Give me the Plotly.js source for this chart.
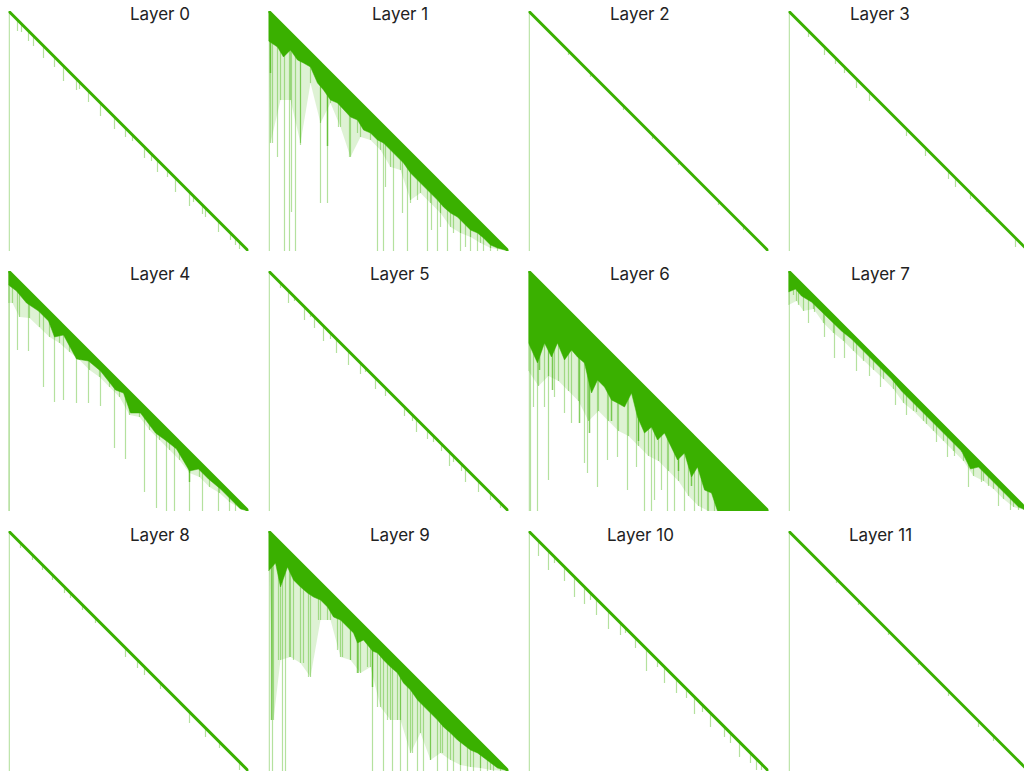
<!DOCTYPE html>
<html>
<head>
<meta charset="utf-8">
<script src="https://cdn.plot.ly/plotly-3.0.1.min.js"></script>
<style>html,body{margin:0;padding:0;background:#fff;}#chart{width:1024px;height:772px;}</style>
</head>
<body>
<div id="chart"></div>
<script>
// ---------- data (token positions; 240 tokens per panel) ----------
const layerNames = ['Layer 0','Layer 1','Layer 2','Layer 3','Layer 4','Layer 5','Layer 6','Layer 7','Layer 8','Layer 9','Layer 10','Layer 11'];
const nTokens = 240;

// light vertical stripes: key column and the last query row that still attends to it
const L0_stripeCol = [9,13,20,25,35,46,55,68,71,80,92,106,117,124,136,143,149,159,167,181,185,194,197,210,222,227,231];
const L0_stripeEnd = [20,21,30,35,47,56,70,79,78,91,105,118,126,130,147,150,161,166,181,195,191,203,206,221,229,234,238];
const L1_stripeCol = [4,9,16,21,23,27,32,52,59,70,81,89,109,115,117,125,134,139,142,149,159,163,169,172,179,185,192,197,202,209,215,222,229];
const L1_stripeEnd = [132,146,240,240,201,240,134,192,192,116,146,122,240,240,176,240,202,240,192,189,240,219,240,216,240,222,240,236,240,240,240,240,240];
const L2_stripeCol = [40,62,95,124,150,190,215];
const L2_stripeEnd = [44,66,99,128,154,194,219];
const L3_stripeCol = [20,36,47,56,68,81,118,137,160,167,182,198,227];
const L3_stripeEnd = [26,44,53,62,77,90,125,145,168,176,188,201,236];
const L4_stripeCol = [0,9,20,35,46,55,68,80,92,106,117,136,148,158,166,181,194,210,221,227];
const L4_stripeEnd = [240,79,80,116,131,129,132,132,135,177,188,221,237,240,240,240,240,240,240,240];
const L5_stripeCol = [12,20,26,36,42,46,55,62,68,80,92,97,107,117,136,144,148,159,165,173,181,185,193,197,210,222,232];
const L5_stripeEnd = [17,32,30,49,46,57,70,68,82,94,103,101,118,125,145,150,161,168,171,180,195,191,200,211,221,229,237];
const L6_stripeCol = [2,5,9,16,20,26,36,43,56,59,69,79,89,99,108,116,123,126,133,139,146,156,166,173,179,186];
const L6_stripeEnd = [240,136,240,136,209,126,142,152,192,202,216,189,186,219,196,240,240,229,219,240,240,240,240,240,240,240];
const L7_stripeCol = [5,10,20,26,36,46,56,68,81,92,107,118,128,138,148,159,166,173,180,193,200,210,222,230,235];
const L7_stripeEnd = [24,34,52,41,66,87,87,100,105,116,134,144,141,153,171,186,185,181,216,211,215,235,239,239,239];
const L8_stripeCol = [12,24,34,44,56,62,74,87,117,129,136,152,181,197,211,231];
const L8_stripeEnd = [17,29,39,49,62,67,79,92,126,137,144,158,192,206,217,239];
const L9_stripeCol = [4,10,14,17,21,25,35,40,50,59,69,74,82,90,99,104,109,115,119,124,129,132,139,144,149,155,162,169,174,179,185,192,199,205,212,219,225,232];
const L9_stripeEnd = [240,129,240,240,126,129,132,146,89,89,119,126,129,142,136,240,176,240,189,240,189,240,240,222,240,240,229,240,222,240,240,240,240,240,240,240,240,240];
const L10_stripeCol = [10,20,26,36,46,56,62,68,80,92,97,107,118,129,136,148,158,166,174,182,196,202,211,222,228,233];
const L10_stripeEnd = [25,39,32,50,66,73,69,84,98,104,102,117,140,136,152,162,167,183,181,196,206,212,226,232,239,239];
const L11_stripeCol = [48,70,100,130,160,190,205];
const L11_stripeEnd = [52,74,104,134,165,196,210];

// a few darker single stripes inside the dense layers
const L1_darkCol = [2,59];
const L1_darkEnd = [62,135];
const L4_darkCol = [181];
const L4_darkEnd = [211];
const L6_darkCol = [11,24,51,61,83,110,150,163];
const L6_darkEnd = [99,119,152,162,150,170,200,215];
const L9_darkCol = [3,89,104];
const L9_darkEnd = [189,142,156];

// dense dark part below the diagonal: column and the row where the dark part ends
const L1_bandCol = [0,9,15,22,29,35,42,49,55,62,69,75,82,89,95,102,109,115,122,129,135,142,149,155,162,169,175,182,189,195,202,209,215,222,229];
const L1_bandEnd = [30,36,46,39,49,52,56,72,79,89,92,99,106,109,119,122,129,132,139,146,152,162,169,176,182,189,196,202,206,212,219,222,227,234,237];
const L4_bandCol = [0,8,18,30,40,46,55,68,80,92,107,115,122,132,147,158,168,181,190,200,212,222,232];
const L4_bandEnd = [14,20,32,40,50,66,64,88,90,100,119,122,142,142,162,170,178,200,198,208,218,228,238];
const L6_bandCol = [0,9,16,23,29,36,43,49,56,63,69,76,83,89,96,103,109,116,123,129,136,143,149,156,163,169,176,183,189];
const L6_bandEnd = [72,92,72,86,72,89,79,86,92,122,109,116,129,132,136,122,146,162,156,169,162,176,189,182,206,196,219,222,240];
const L7_bandCol = [0,7,13,23,33,43,53,63,73,83,93,103,113,123,133,143,153,163,173,182,190,200,210,220,230];
const L7_bandEnd = [21,18,25,31,41,50,60,68,78,88,98,108,120,130,140,150,160,170,180,198,196,206,216,226,236];
const L9_bandCol = [0,7,12,19,25,32,39,45,52,59,65,72,79,85,89,95,104,109,115,122,129,135,142,149,155,162,169,175,182,189,195,202,209,215,222,229];
const L9_bandEnd = [40,32,56,36,49,56,62,66,69,76,86,89,96,102,112,109,120,122,129,136,142,152,159,169,176,182,189,196,202,209,214,219,222,227,232,237];

// lighter, densely striped zone that follows the dark part
const L1_fringeCol = [2,12,22,32,42,52,62,72,82,92,102,112,122,132,142,152,162,172,182,192,202,212,222];
const L1_fringeEnd = [132,89,89,132,72,112,92,116,146,126,129,139,156,159,189,182,192,202,216,222,226,232,237];
const L4_fringeCol = [0,4,11,21,31,41,51,61,71,81,91,101,111,121,131,141,151,161,171,181,191,201,211,221,231];
const L4_fringeEnd = [32,32,46,47,56,66,72,81,89,99,106,116,126,144,146,159,169,179,189,202,206,216,222,231,237];
const L6_fringeCol = [0,10,20,30,40,50,60,70,80,90,100,110,120,130,140,150,160,170,180];
const L6_fringeEnd = [100,115,105,110,120,130,150,140,150,160,165,175,185,190,200,210,225,235,240];
const L7_fringeCol = [0,8,15,25,35,45,55,65,75,85,95,105,115,125,135,145,155,165,175,185,195,205,215,225];
const L7_fringeEnd = [34,30,40,38,52,62,70,80,90,99,108,118,132,140,150,160,170,180,190,205,210,218,228,236];
const L9_fringeCol = [5,12,22,32,42,52,62,72,82,92,102,112,122,132,142,152,162,172,182,192,202,212,222];
const L9_fringeEnd = [189,129,126,132,146,89,89,126,129,142,136,176,189,189,222,202,229,222,229,234,236,237,239];

const stripeCols = [L0_stripeCol,L1_stripeCol,L2_stripeCol,L3_stripeCol,L4_stripeCol,L5_stripeCol,L6_stripeCol,L7_stripeCol,L8_stripeCol,L9_stripeCol,L10_stripeCol,L11_stripeCol];
const stripeEnds = [L0_stripeEnd,L1_stripeEnd,L2_stripeEnd,L3_stripeEnd,L4_stripeEnd,L5_stripeEnd,L6_stripeEnd,L7_stripeEnd,L8_stripeEnd,L9_stripeEnd,L10_stripeEnd,L11_stripeEnd];
const darkCols = {1:L1_darkCol, 4:L4_darkCol, 6:L6_darkCol, 9:L9_darkCol};
const darkEnds = {1:L1_darkEnd, 4:L4_darkEnd, 6:L6_darkEnd, 9:L9_darkEnd};
const bandCols = {1:L1_bandCol, 4:L4_bandCol, 6:L6_bandCol, 7:L7_bandCol, 9:L9_bandCol};
const bandEnds = {1:L1_bandEnd, 4:L4_bandEnd, 6:L6_bandEnd, 7:L7_bandEnd, 9:L9_bandEnd};
const fringeCols = {1:L1_fringeCol, 4:L4_fringeCol, 6:L6_fringeCol, 7:L7_fringeCol, 9:L9_fringeCol};
const fringeEnds = {1:L1_fringeEnd, 4:L4_fringeEnd, 6:L6_fringeEnd, 7:L7_fringeEnd, 9:L9_fringeEnd};

// ---------- styling ----------
const DARK = 'rgb(58,176,0)';
const MID = 'rgba(58,176,0,0.62)';
const LIGHT = 'rgba(58,176,0,0.38)';
const FRINGE = 'rgba(58,176,0,0.17)';
const W = 1024, H = 772;

const traces = [];
const layout = {
  width: W, height: H,
  margin: {l:0, r:0, t:0, b:0},
  paper_bgcolor: '#fff', plot_bgcolor: '#fff',
  showlegend: false,
  annotations: []
};

// outline of the region between the diagonal and a lower edge
function polygon(cols, ends) {
  const px = [0, nTokens], py = [0, nTokens];
  for (let k = cols.length - 1; k >= 0; k--) {
    px.push(cols[k]); py.push(Math.min(nTokens, Math.max(ends[k], cols[k])));
  }
  px.push(0); py.push(0);
  return {px, py};
}
function segments(cols, ends) {
  const x = [], y = [];
  cols.forEach((c, k) => { x.push(c, c, null); y.push(c, ends[k], null); });
  return {x, y};
}

layerNames.forEach((name, i) => {
  const col = i % 4, row = Math.floor(i / 4);
  const idx = i === 0 ? '' : String(i + 1);
  const xa = 'x' + idx, ya = 'y' + idx;
  const left = 8.5 + 260 * col, right = left + 240;
  const top = 11 + 260 * row, bottom = top + 240;
  const visRight = Math.min(right, W);
  const xMax = nTokens * (visRight - left) / 240;

  layout['xaxis' + idx] = {
    domain: [left / W, visRight / W], range: [0, xMax],
    showgrid: false, zeroline: false, showticklabels: false, ticks: '', showline: false, fixedrange: true
  };
  layout['yaxis' + idx] = {
    domain: [1 - bottom / H, 1 - top / H], range: [nTokens, 0],
    showgrid: false, zeroline: false, showticklabels: false, ticks: '', showline: false, fixedrange: true
  };

  // attention-sink column (first token)
  traces.push({type:'scatter', mode:'lines', x:[0.7,0.7], y:[0,nTokens], xaxis:xa, yaxis:ya,
    line:{color:LIGHT, width:1.3}, hoverinfo:'skip'});

  // lighter striped zone: faint fill plus a stripe at each sampled column
  if (fringeCols[i]) {
    const p = polygon(fringeCols[i], fringeEnds[i]);
    traces.push({type:'scatter', mode:'lines', x:p.px, y:p.py, xaxis:xa, yaxis:ya, fill:'toself',
      fillcolor:FRINGE, line:{width:0}, hoverinfo:'skip'});
    const f = segments(fringeCols[i], fringeEnds[i]);
    traces.push({type:'scatter', mode:'lines', x:f.x, y:f.y, xaxis:xa, yaxis:ya,
      line:{color:LIGHT, width:1.2}, connectgaps:false, hoverinfo:'skip'});
  }

  // light stripes
  const s = segments(stripeCols[i], stripeEnds[i]);
  traces.push({type:'scatter', mode:'lines', x:s.x, y:s.y, xaxis:xa, yaxis:ya,
    line:{color:LIGHT, width:1.2}, connectgaps:false, hoverinfo:'skip'});

  // darker single stripes
  if (darkCols[i]) {
    const d = segments(darkCols[i], darkEnds[i]);
    traces.push({type:'scatter', mode:'lines', x:d.x, y:d.y, xaxis:xa, yaxis:ya,
      line:{color:MID, width:1.5}, connectgaps:false, hoverinfo:'skip'});
  }

  // dense dark band
  if (bandCols[i]) {
    const p = polygon(bandCols[i], bandEnds[i]);
    traces.push({type:'scatter', mode:'lines', x:p.px, y:p.py, xaxis:xa, yaxis:ya, fill:'toself',
      fillcolor:DARK, line:{color:DARK, width:0.5}, hoverinfo:'skip'});
  }

  // diagonal (self attention)
  traces.push({type:'scatter', mode:'lines', x:[0,nTokens], y:[0,nTokens], xaxis:xa, yaxis:ya,
    line:{color:DARK, width:3}, hoverinfo:'skip'});

  layout.annotations.push({
    text: name, xref:'paper', yref:'paper',
    x: (160 + 240 * col) / W, y: 1 - (14.5 + 260 * row) / H,
    xanchor:'center', yanchor:'middle', showarrow:false,
    font:{family:'Inter, "Liberation Sans", Arial, sans-serif', size:17, color:'#222'}
  });
});

Plotly.newPlot('chart', traces, layout, {displayModeBar:false, staticPlot:true});
</script>
</body>
</html>
